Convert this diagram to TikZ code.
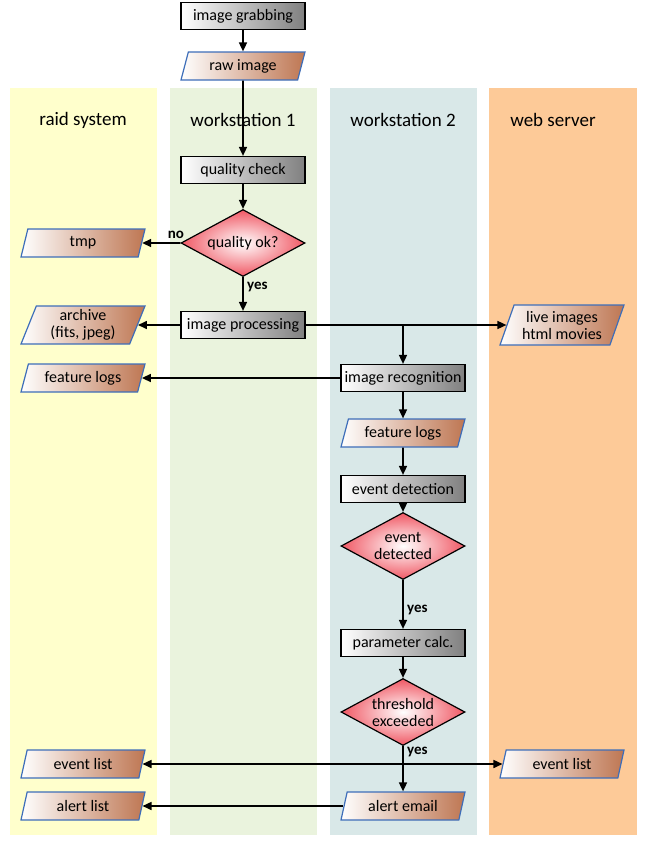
\documentclass[tikz,border=0pt]{standalone}
\usepackage{fontspec}
\setmainfont{Carlito}
\usetikzlibrary{shapes.geometric,arrows.meta}
\definecolor{laneA}{RGB}{255,255,204}
\definecolor{laneB}{RGB}{234,243,221}
\definecolor{laneC}{RGB}{217,232,232}
\definecolor{laneD}{RGB}{253,202,152}
\definecolor{pargray}{RGB}{128,128,128}
\definecolor{parbrown}{RGB}{190,118,82}
\definecolor{parblue}{RGB}{62,110,185}
\definecolor{decred}{RGB}{240,88,100}
\tikzset{
  x=1pt,y=-1pt,
  lane/.style={fill=#1,draw=none},
  lanetitle/.style={font=\fontsize{19}{21}\selectfont},
  procbox/.style={draw=black,line width=1.2pt,minimum width=124pt,minimum height=27pt,inner sep=1pt,
    left color=white,right color=pargray,font=\fontsize{16}{17}\selectfont},
  datapar/.style={trapezium,trapezium left angle=65,trapezium right angle=115,trapezium stretches body,
    draw=parblue,line width=1.2pt,minimum width=124pt,minimum height=28pt,inner sep=1pt,
    left color=white,right color=parbrown,align=center,font=\fontsize{16}{17}\selectfont},
  decision/.style={diamond,draw=black,line width=1.2pt,minimum width=124pt,minimum height=67pt,inner sep=0pt,
    inner color=white,outer color=decred},
  dtext/.style={align=center,font=\fontsize{16}{17}\selectfont,inner sep=0pt},
  conn/.style={line width=1.6pt,-{Triangle[length=9pt,width=8pt]}},
  lbl/.style={font=\bfseries\fontsize{15}{17}\selectfont},
}
\begin{document}
\begin{tikzpicture}
\useasboundingbox (0,0) rectangle (665,860);
\fill[white] (0,0) rectangle (665,860);
% lanes
\path[lane=laneA] (10,88) rectangle (157,835);
\path[lane=laneB] (170,88) rectangle (317,835);
\path[lane=laneC] (330,88) rectangle (477,835);
\path[lane=laneD] (489,88) rectangle (637,835);
\node[lanetitle] (t1) at (83,120) {raid system};
\node[lanetitle] (t2) at (243,120) {workstation 1};
\node[lanetitle] (t3) at (403,120) {workstation 2};
\node[lanetitle] (t4) at (553,120) {web server};
% nodes
\node[procbox] (grab) at (243,16) {image grabbing};
\node[datapar] (raw) at (243,66) {raw image};
\node[procbox] (qc) at (243,170) {quality check};
\node[decision] (qok) at (243,243) {};
\node[dtext] (qokt) at (qok.center) {quality ok?};
\node[datapar] (tmp) at (83,243) {tmp};
\node[procbox] (proc) at (243,325) {image processing};
\node[datapar,minimum height=38pt] (arch) at (83,325) {archive\\(fits, jpeg)};
\node[datapar,minimum height=40pt] (live) at (562,325) {live images\\html movies};
\node[procbox] (recog) at (403,378) {image recognition};
\node[datapar] (featL) at (83,378) {feature logs};
\node[datapar] (featR) at (403,433) {feature logs};
\node[procbox] (evdet) at (403,489) {event detection};
\node[decision] (evd) at (403,546) {};
\node[dtext] (evdt) at (evd.center) {event\\detected};
\node[procbox] (param) at (403,643) {parameter calc.};
\node[decision] (thr) at (403,712) {};
\node[dtext] (thrt) at (thr.center) {threshold\\exceeded};
\node[datapar] (evL) at (83,764) {event list};
\node[datapar] (evR) at (562,764) {event list};
\node[datapar] (alert) at (403,806) {alert email};
\node[datapar] (alL) at (83,806) {alert list};
\coordinate (split) at (403,325);
% connectors
\draw[conn] (grab) -- (raw);
\draw[conn] (raw) -- (qc);
\draw[conn] (qc) -- (qok);
\draw[conn] (qok.west) -- node[lbl,above,pos=0.12] {no} (tmp.east);
\draw[conn] (qok.south) -- node[lbl,right,pos=0.3] {yes} (proc.north);
\draw[conn] (proc.west) -- (arch.east);
\draw[conn] (proc.east) -- (live.west);
\draw[conn] (split) -- (recog.north);
\draw[conn] (recog.west) -- (featL.east);
\draw[conn] (recog) -- (featR);
\draw[conn] (featR) -- (evdet);
\draw[conn] (evdet) -- (evd);
\draw[conn] (evd.south) -- node[lbl,right,pos=0.62] {yes} (param.north);
\draw[conn] (param) -- (thr);
\draw[conn] (thr.south) -- node[lbl,right,pos=0.14] {yes} (alert.north);
\draw[line width=1.6pt,{Triangle[length=9pt,width=8pt]}-{Triangle[length=9pt,width=8pt]}] (evL.east) -- (evR.west);
\draw[conn] (alert.west) -- (alL.east);
\end{tikzpicture}
\end{document}
